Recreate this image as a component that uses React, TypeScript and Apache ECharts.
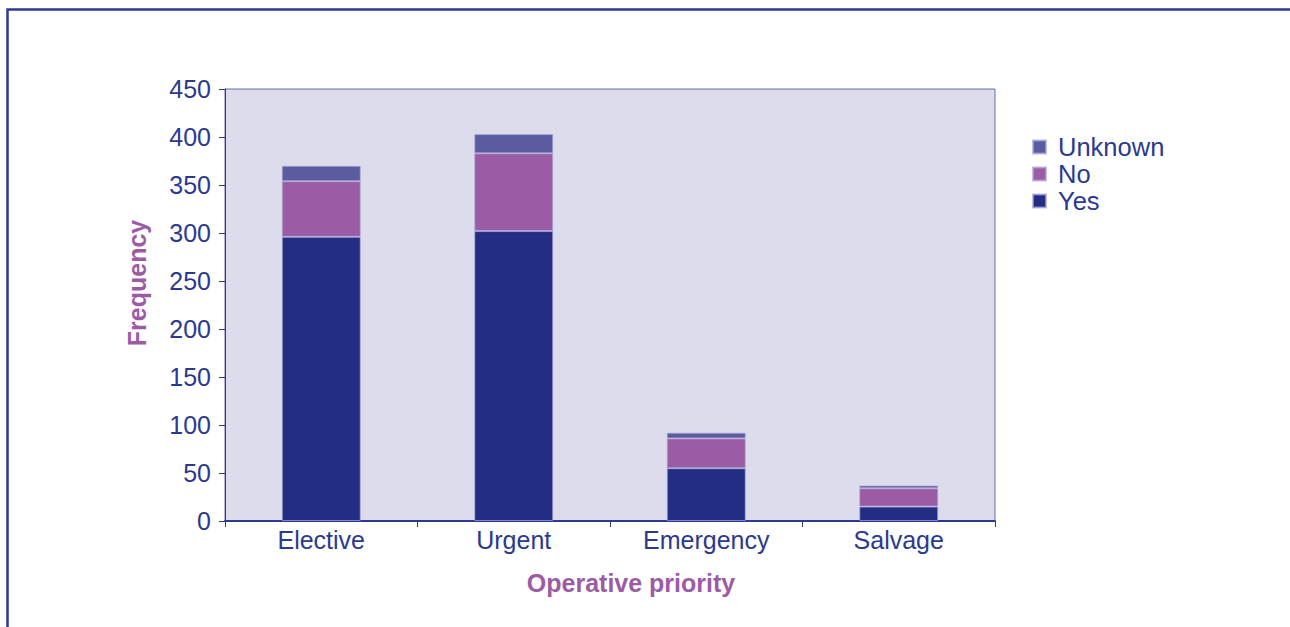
import React, { useEffect, useRef } from "react";
import * as echarts from "echarts";

const categories = ["Elective", "Urgent", "Emergency", "Salvage"];
const yesValues = [296, 302, 55, 15];
const noValues = [58, 81, 31, 19];
const unknownValues = [16, 20, 6, 3];
const legendOrder = ["Unknown", "No", "Yes"];

const NAVY = "#2b3990";
const FONT = "'Liberation Sans', Arial, Helvetica, sans-serif";

export default function App() {
  const ref = useRef<HTMLDivElement>(null);
  useEffect(() => {
    if (!ref.current) return;
    const chart = echarts.init(ref.current, null, { renderer: "svg" });
    const barStyle = (color: string) => ({
      color,
      borderColor: "rgba(170,165,215,0.7)",
      borderWidth: 1,
    });
    chart.setOption({
      animation: false,
      textStyle: { fontFamily: FONT },
      graphic: [
        {
          type: "rect",
          shape: { x: 7.5, y: 9.5, width: 1400, height: 1000 },
          style: { fill: "none", stroke: NAVY, lineWidth: 2.5 },
          silent: true,
        },
      ],
      grid: {
        left: 225,
        right: 295,
        top: 89,
        bottom: 106,
        show: true,
        backgroundColor: "#dddcec",
        borderColor: "#6b6fa8",
        borderWidth: 1,
      },
      legend: {
        data: legendOrder,
        orient: "vertical",
        left: 1027,
        top: 129,
        itemWidth: 13,
        itemHeight: 13,
        itemGap: 1,
        icon: "rect",
        textStyle: {
          color: NAVY,
          fontSize: 25.5,
          fontFamily: FONT,
          padding: [0, 0, 0, 7],
        },
      },
      xAxis: {
        type: "category",
        data: categories,
        name: "Operative priority",
        nameLocation: "middle",
        nameGap: 49,
        nameTextStyle: {
          color: "#9b5ba5",
          fontSize: 25,
          fontWeight: "bold",
          fontFamily: FONT,
          padding: [0, 0, 0, 42],
        },
        axisLine: { lineStyle: { color: NAVY, width: 2 } },
        axisTick: { show: true, length: 6, lineStyle: { color: NAVY } },
        axisLabel: { color: NAVY, fontSize: 25, margin: 6, fontFamily: FONT },
      },
      yAxis: {
        type: "value",
        min: 0,
        max: 450,
        interval: 50,
        name: "Frequency",
        nameLocation: "middle",
        nameGap: 76,
        nameTextStyle: {
          color: "#9b5ba5",
          fontSize: 25,
          fontWeight: "bold",
          fontFamily: FONT,
          padding: [0, 0, 0, 44],
        },
        axisLine: { show: true, lineStyle: { color: NAVY, width: 1 } },
        axisTick: { show: true, length: 6, lineStyle: { color: NAVY } },
        axisLabel: { color: NAVY, fontSize: 25, margin: 14, fontFamily: FONT },
        splitLine: { show: false },
      },
      series: [
        { name: "Yes", type: "bar", stack: "t", data: yesValues, barWidth: "41%", itemStyle: barStyle("#232d84") },
        { name: "No", type: "bar", stack: "t", data: noValues, barWidth: "41%", itemStyle: barStyle("#9b5ba5") },
        { name: "Unknown", type: "bar", stack: "t", data: unknownValues, barWidth: "41%", itemStyle: barStyle("#5a5c9f") },
      ],
    });
    return () => chart.dispose();
  }, []);
  return <div ref={ref} style={{ position: "absolute", left: 0, top: 0, width: 1290, height: 627 }} />;
}
